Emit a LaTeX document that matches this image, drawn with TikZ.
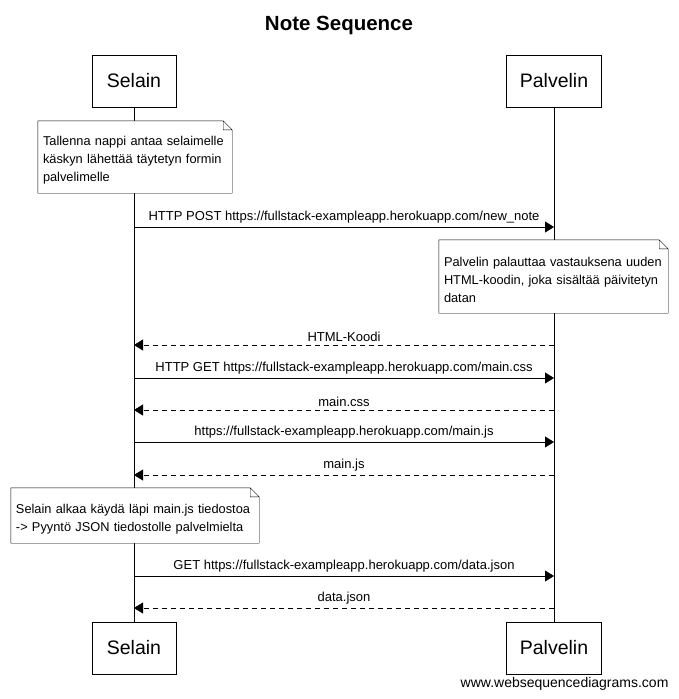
\documentclass[tikz,border=0pt]{standalone}
\usepackage{fontspec}
\setmainfont{Liberation Sans}
\usetikzlibrary{arrows.meta}

\pgfdeclarelayer{back}
\pgfdeclarelayer{mid}
\pgfsetlayers{back,mid,main}

\tikzset{
	actor/.style={draw, line width=0.6pt, fill=white, minimum width=84pt, minimum height=52pt, font=\fontsize{19.5}{22}\selectfont},
	note/.style={inner xsep=5pt, align=left, text height=16pt, font=\fontsize{12.8}{18}\selectfont},
	msg/.style={-{Triangle[length=9pt,width=11pt]}},
	reply/.style={msg, dash pattern=on 5pt off 4pt},
	lbl/.style={above=0pt, font=\fontsize{13}{15}\selectfont}
}

\begin{document}
\begin{tikzpicture}[x=1pt, y=-1pt]
	\useasboundingbox (0,0) rectangle (678,699);
	% otsikko
	\node [anchor=base] (title) at (339,30.5) {\fontsize{20.5}{24}\selectfont\bfseries Note Sequence};
	% osapuolet
	\node [actor] (sa) at (134,81) {Selain};
	\node [actor, minimum width=95pt] (pa) at (554,81) {Palvelin};
	\node [actor] (sb) at (134,648) {Selain};
	\node [actor, minimum width=95pt] (pb) at (554,648) {Palvelin};
	% elämänviivat
	\begin{pgfonlayer}{back}
		\draw (sa.south) -- (sb.north);
		\draw (pa.south) -- (pb.north);
	\end{pgfonlayer}

	% muistiinpanot
	\node [note, text width=184pt, minimum height=72pt] (n1) at (135,157) {Tallenna nappi antaa selaimelle\\käskyn lähettää täytetyn formin\\palvelimelle};
	\node [note, text width=219pt, minimum height=73pt] (n2) at (553.5,276.5) {Palvelin palauttaa vastauksena uuden\\HTML-koodin, joka sisältää päivitetyn\\datan};
	\node [note, text width=238pt, minimum height=55pt] (n3) at (135,515.5) {Selain alkaa käydä läpi main.js tiedostoa\\-> Pyyntö JSON tiedostolle palvelmielta};
	\begin{pgfonlayer}{mid}
		\foreach \n in {n1,n2,n3}
			\draw [fill=white] (\n.north west) -- ([xshift=-9pt]\n.north east) -- ([yshift=-9pt]\n.north east) -- (\n.south east) -- (\n.south west) -- cycle
				([xshift=-9pt]\n.north east) |- ([yshift=-9pt]\n.north east);
	\end{pgfonlayer}

	% viestit
	\draw [msg] (sa.south |- 0,227) -- node [lbl] {HTTP POST https://fullstack-exampleapp.herokuapp.com/new\_note} (pa.south |- 0,227);
	\draw [reply] (pa.south |- 0,345) -- node [lbl] {HTML-Koodi} (sa.south |- 0,345);
	\draw [msg] (sa.south |- 0,378) -- node [lbl] {HTTP GET https://fullstack-exampleapp.herokuapp.com/main.css} (pa.south |- 0,378);
	\draw [reply] (pa.south |- 0,410) -- node [lbl] {main.css} (sa.south |- 0,410);
	\draw [msg] (sa.south |- 0,442) -- node [lbl] {https://fullstack-exampleapp.herokuapp.com/main.js} (pa.south |- 0,442);
	\draw [reply] (pa.south |- 0,475) -- node [lbl] {main.js} (sa.south |- 0,475);
	\draw [msg] (sa.south |- 0,576) -- node [lbl] {GET https://fullstack-exampleapp.herokuapp.com/data.json} (pa.south |- 0,576);
	\draw [reply] (pa.south |- 0,608) -- node [lbl] {data.json} (sa.south |- 0,608);

	\node [anchor=east, font=\fontsize{14}{16}\selectfont] (www) at (672,684) {www.websequencediagrams.com};
\end{tikzpicture}
\end{document}
